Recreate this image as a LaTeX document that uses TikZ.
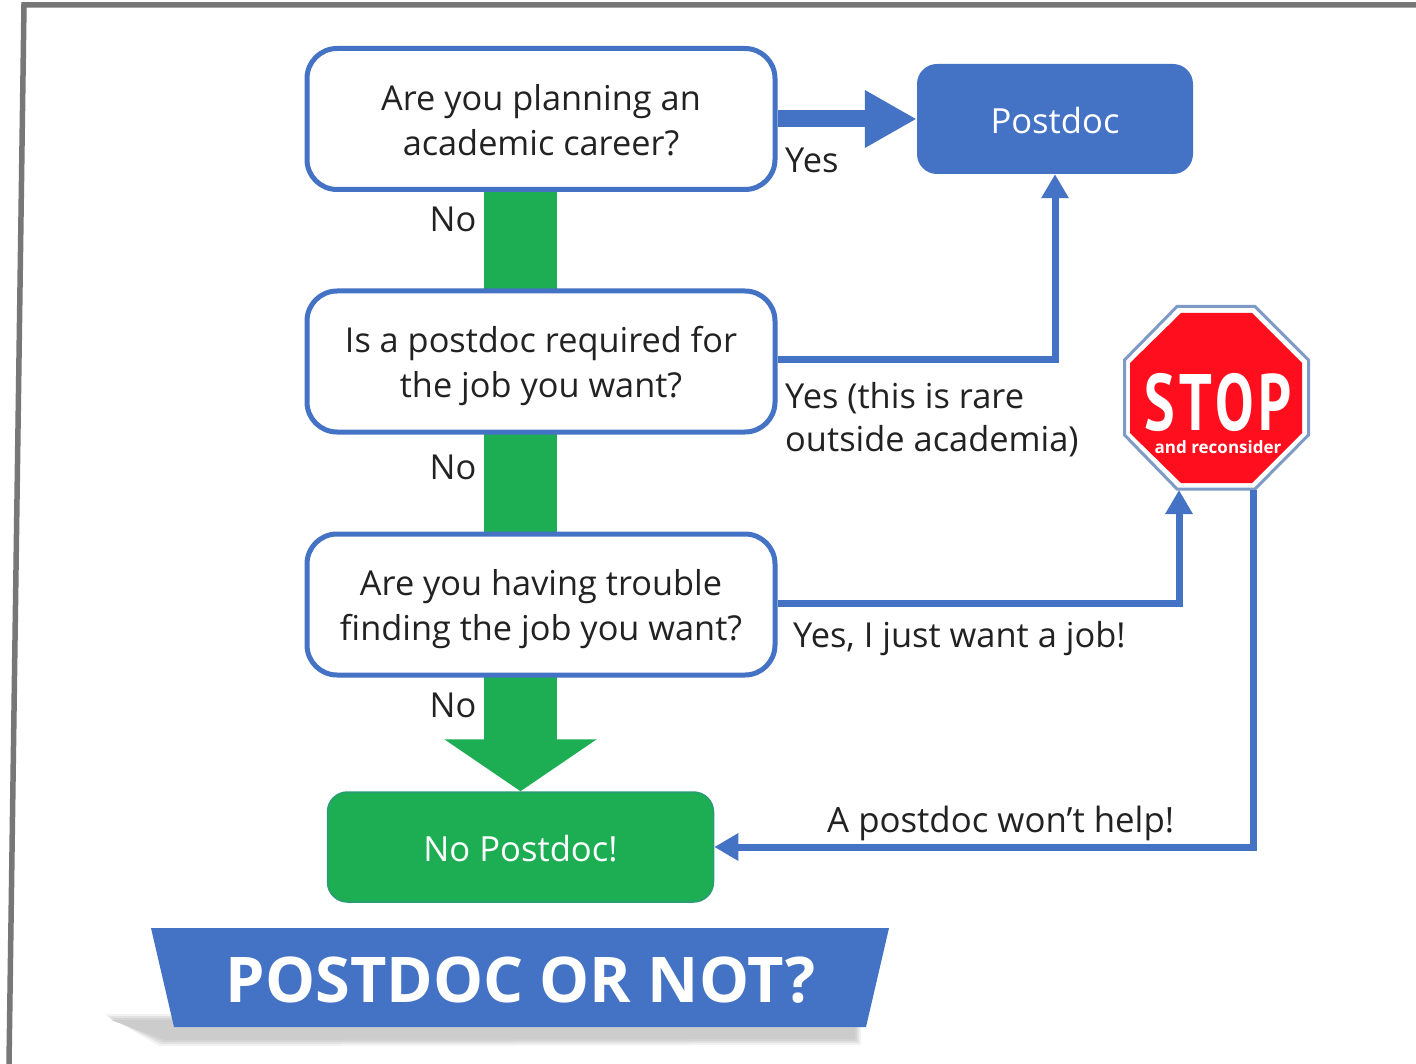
\documentclass[tikz,border=0pt]{standalone}
\usepackage{fontspec}
\setmainfont{Open Sans}
\newfontfamily\stopfont{PT Sans}
\usetikzlibrary{arrows.meta,calc}
\definecolor{pblue}{HTML}{4472C4}
\definecolor{pgreen}{HTML}{1DAE54}
\definecolor{pred}{HTML}{FF0F1E}
\definecolor{pframe}{HTML}{777777}
\definecolor{poct}{HTML}{7E9BC8}
\definecolor{ptext}{HTML}{222222}
\newcommand{\qs}{\rule[-7.25pt]{0pt}{42.5pt}}
\tikzset{
  qbox/.style={draw=pblue,line width=5pt,fill=white,rounded corners=30pt,minimum width=468pt,minimum height=141pt,align=center,text=ptext,font=\fontsize{34.3}{42.5}\selectfont,inner sep=0pt},
  resbox/.style={rounded corners=20pt,minimum height=110pt,text=white,font=\fontsize{34.6}{40}\selectfont,inner sep=0pt},
  lab/.style={text=ptext,font=\fontsize{34.4}{42.5}\selectfont,align=left,inner sep=0pt},
  greenlink/.style={draw=pgreen,line width=73pt},
  thinlink/.style={draw=pblue,line width=7pt,-{Triangle[length=24pt,width=26pt]}},
}
\begin{document}
\begin{tikzpicture}[x=1pt,y=-1pt]
\useasboundingbox (0,0) rectangle (1416,1064);
\fill[white] (0,0) rectangle (1416,1064);
% frame
\draw[pframe,line width=5.5pt] (9,1064) -- (24,5) -- (1416,5);
% nodes
\node[resbox,fill=pblue,minimum width=276pt] (post) at (1055,119) {\rule{0pt}{29pt}Postdoc};
\node[resbox,fill=pgreen,draw=pgreen!70!pblue,line width=1.5pt,minimum width=386pt] (nopd) at (520.5,847) {\rule{0pt}{29pt}No Postdoc!};
% green connectors are drawn first, so the question boxes cover their ends
\coordinate (g1a) at (520.5,170);
\coordinate (g1b) at (520.5,310);
\coordinate (g2a) at (520.5,412);
\coordinate (g2b) at (520.5,552);
\coordinate (g3a) at (520.5,660);
\draw[greenlink] (g1a) -- (g1b);
\draw[greenlink] (g2a) -- (g2b);
\draw[greenlink,-{Triangle[length=52pt,width=150pt]}] (g3a) -- (nopd.north);
\node[qbox] (q1) at (541,119) {\qs Are you planning an\\\qs academic career?};
\node[qbox] (q2) at (541,361.5) {\qs Is a postdoc required for\\\qs the job you want?};
\node[qbox] (q3) at (541,604.5) {\qs Are you having trouble\\\qs finding the job you want?};
% stop sign
\node[minimum width=187pt,minimum height=185pt,inner sep=0pt] (stop) at (1216.5,397.5) {};
\filldraw[draw=poct,fill=white,line width=3pt] (1177,306.5)--(1255,306.5)--(1308.5,360)--(1308.5,435)--(1255,489)--(1177,489)--(1124.5,435)--(1124.5,360)--cycle;
\fill[pred] (1181,313)--(1252,313)--(1302,363)--(1302,433)--(1252,483)--(1181,483)--(1130,433)--(1130,363)--cycle;
\node[text=white,inner sep=0pt,xscale=0.72,font=\stopfont\bfseries\fontsize{80}{80}\selectfont] (stoptxt) at (1218,402) {\addfontfeature{LetterSpace=8}STOP};
\node[text=white,inner sep=0pt,font=\bfseries\fontsize{17}{19}\selectfont] (stopsub) at (1218,447) {and reconsider};
% connectors
\coordinate (e2) at ($(q2.east)+(0,-1.5)$);
\coordinate (e3) at ($(q3.east)+(0,-1.5)$);
\coordinate (c3) at (1179,603);
\coordinate (s3) at (1179,490);
\coordinate (s4) at (1253,490);
\coordinate (c4) at (1253,847);
\draw[draw=pblue,line width=17pt,-{Triangle[length=52pt,width=54pt]}] (q1.east) -- (post.west);
\draw[thinlink] (e2) -- (post.south |- e2) -- (post.south);
\draw[thinlink] (e3) -- (c3) -- (s3);
\draw[thinlink] (s4) -- (c4) -- (nopd.east);
% labels
\node[lab,anchor=center] (no1) at (453,219) {No};
\node[lab,anchor=center] (no2) at (453,467) {No};
\node[lab,anchor=center] (no3) at (453,705) {No};
\node[lab,anchor=west] (yes1) at (785,160) {Yes};
\node[lab,anchor=west] (yes2) at (785,419.5) {Yes (this is rare\\outside academia)};
\node[lab,anchor=west] (yes3) at (793,639) {Yes, I just want a job!};
\node[lab,anchor=west,font=\fontsize{34.8}{42.5}\selectfont] (help) at (827,823) {A postdoc won’t help!};
% banner shadow
\foreach \g/\op in {6/0.25,4/0.4,2/0.6,0/1}{
  \fill[black!20,opacity=\op] (111-\g,1020-\g)--(855+\g,1020-\g)--(855+\g,1039+\g)--(165-\g,1040+\g)--cycle;
}
% banner
\fill[pblue] (151,928)--(889,928)--(866,1027)--(174,1027)--cycle;
\node[text=white,inner sep=0pt,font=\bfseries\fontsize{63}{70}\selectfont] (title) at (520.5,980) {POSTDOC OR NOT?};
\end{tikzpicture}
\end{document}
